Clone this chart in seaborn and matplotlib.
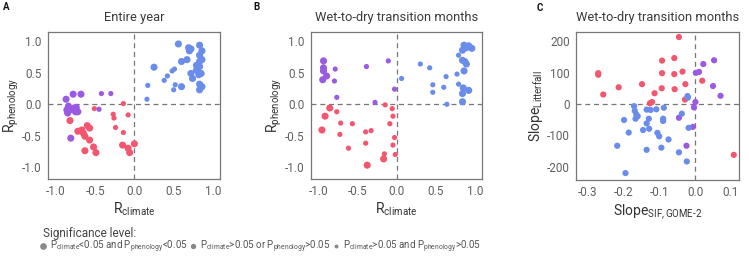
import matplotlib
matplotlib.use("Agg")
import matplotlib.pyplot as plt
from matplotlib.lines import Line2D
import seaborn as sns
import pandas as pd

sns.set_theme(style="white")
plt.rcParams['font.family'] = ['Roboto', 'DejaVu Sans']
plt.rcParams['mathtext.fontset'] = 'custom'
plt.rcParams['mathtext.rm'] = 'Roboto'
plt.rcParams['mathtext.it'] = 'Roboto'

# ---------------- Panel A: Entire year ----------------
a_blue_x = [0.56, 0.69, 0.70, 0.72, 0.83, 0.86, 0.83, 0.67, 0.60, 0.83, 0.86, 0.79, 0.83, 0.79, 0.25,
            0.51, 0.48, 0.72, 0.74, 0.85, 0.82, 0.42, 0.38, 0.52, 0.50, 0.60, 0.83, 0.86, 0.83, 0.17, 0.16]
a_blue_y = [0.96, 0.90, 0.85, 0.88, 0.94, 0.85, 0.78, 0.71, 0.68, 0.68, 0.71, 0.62, 0.60, 0.54, 0.59,
            0.56, 0.53, 0.49, 0.41, 0.49, 0.47, 0.45, 0.38, 0.31, 0.23, 0.28, 0.32, 0.28, 0.23, 0.30, 0.08]
a_blue_s = ["L", "L", "L", "L", "L", "L", "L", "L", "L", "L", "L", "L", "L", "L", "L",
            "M", "M", "L", "L", "L", "L", "M", "M", "M", "M", "L", "L", "L", "L", "M", "M"]
a_purple_x = [-0.87, -0.78, -0.68, -0.42, -0.30, -0.45, -0.84, -0.82, -0.77, -0.74, -0.75, -0.72, -0.85, -0.81, -0.86]
a_purple_y = [0.08, 0.16, 0.16, 0.17, 0.17, -0.08, -0.03, -0.09, -0.06, -0.05, -0.12, -0.12, -0.14, -0.54, -0.09]
a_purple_s = ["L", "L", "L", "M", "M", "M", "L", "L", "L", "L", "L", "L", "L", "L", "L"]
a_red_x = [-0.82, -0.72, -0.67, -0.60, -0.57, -0.65, -0.63, -0.57, -0.52, -0.63, -0.49,
           -0.14, -0.51, -0.27, -0.26, -0.24, -0.08, -0.14, -0.15, -0.08, -0.06, 0.00]
a_red_y = [-0.26, -0.43, -0.41, -0.34, -0.38, -0.46, -0.51, -0.57, -0.68, -0.74, -0.77,
           0.01, -0.07, -0.16, -0.22, -0.37, -0.17, -0.45, -0.65, -0.70, -0.77, -0.63]
a_red_s = ["L", "L", "L", "L", "L", "L", "L", "L", "L", "L", "L",
           "M", "M", "M", "M", "M", "M", "M", "L", "L", "L", "L"]

# ---------------- Panel B: Wet-to-dry transition months ----------------
b_purple_x = [-0.94, -0.94, -0.94, -0.90, -0.95, -0.79, -0.80, -0.77, -0.39, -0.11, -0.03, -0.28]
b_purple_y = [0.69, 0.58, 0.53, 0.45, 0.39, 0.56, 0.37, 0.11, 0.60, 0.69, 0.24, 0.03]
b_purple_s = ["L", "L", "L", "L", "L", "M", "M", "M", "M", "M", "M", "M"]
b_red_x = [-0.86, -0.92, -0.96, -0.77, -0.72, -0.73, -0.57, -0.62, -0.40, -0.33, -0.40, -0.38,
           -0.15, -0.06, -0.05, -0.09, -0.03, -0.05, -0.02, -0.16, -0.17]
b_red_y = [-0.06, -0.19, -0.41, -0.12, -0.30, -0.48, -0.31, -0.70, -0.44, -0.42, -0.62, -0.97,
           -0.01, -0.07, -0.19, -0.31, -0.53, -0.65, -0.80, -0.79, -0.87]
b_red_s = ["L", "L", "L", "M", "M", "M", "M", "M", "M", "M", "M", "L",
           "M", "M", "M", "M", "M", "M", "M", "M", "L"]
b_blue_x = [0.06, 0.30, 0.42, 0.46, 0.46, 0.60, 0.63, 0.64, 0.79, 0.77, 0.79, 0.86, 0.92, 0.96,
            0.84, 0.89, 0.87, 0.89, 0.84, 0.86, 0.85, 0.92, 0.84, 0.84]
b_blue_y = [0.41, 0.64, 0.58, 0.31, 0.19, 0.27, 0.44, 0.00, 0.78, 0.48, 0.32, 0.94, 0.93, 0.89,
            0.86, 0.90, 0.68, 0.64, 0.70, 0.53, 0.26, 0.22, 0.17, 0.04]
b_blue_s = ["M", "M", "M", "M", "M", "M", "M", "M", "M", "M", "M", "L", "L", "L",
            "L", "L", "L", "L", "L", "L", "L", "L", "L", "L"]

# ---------------- Panel C: slopes ----------------
c_red_x = [-0.045, -0.270, -0.270, -0.256, -0.213, -0.148, -0.092, -0.092, -0.093, -0.113, -0.120, -0.126,
           -0.058, -0.058, -0.057, -0.035, -0.027, -0.028, 0.020, 0.108]
c_red_y = [213, 98, 93, 30, 53, 63, 138, 98, 50, 34, 6, 2, 146, 95, 47, 103, 63, 14, 74, -162]
c_purple_x = [0.002, 0.011, 0.023, 0.053, 0.050, 0.071, 0.001, -0.003, -0.045, -0.006, -0.024]
c_purple_y = [99, 102, 127, 139, 57, 26, 6, -11, -44, -73, -133]
c_blue_x = [-0.170, -0.168, -0.164, -0.160, -0.166, -0.198, -0.185, -0.217, -0.194, -0.135, -0.124, -0.108,
            -0.087, -0.129, -0.135, -0.128, -0.145, -0.105, -0.100, -0.074, -0.094, -0.135, -0.089, -0.089,
            -0.037, -0.021, -0.020, -0.018, -0.045, -0.023]
c_blue_y = [-7, -22, -33, -39, -47, -51, -91, -133, -220, -18, -19, -17, -12, -47, -62, -79, -83, -92,
            -103, -113, -139, -146, -47, -54, -31, 25, 20, -76, -154, -183]

titles = ["Entire year", "Wet-to-dry transition months", "Wet-to-dry transition months"]
letters = ["A", "B", "C"]
legend_labels = [r"P$_{\mathrm{climate}}$<0.05 and P$_{\mathrm{phenology}}$<0.05",
                 r"P$_{\mathrm{climate}}$>0.05 or P$_{\mathrm{phenology}}$>0.05",
                 r"P$_{\mathrm{climate}}$>0.05 and P$_{\mathrm{phenology}}$>0.05"]

RED, BLUE, PURPLE = "#F3566F", "#6A8CEA", "#9A5BE2"
palette = {"red": RED, "blue": BLUE, "purple": PURPLE}
sizes = {"L": 26, "M": 14, "S": 7, "C": 20}


def frame(parts):
    rows = []
    for grp, xs, ys, ss in parts:
        for x, y, s in zip(xs, ys, ss):
            rows.append({"x": x, "y": y, "group": grp, "sig": s})
    return pd.DataFrame(rows)


dfA = frame([("red", a_red_x, a_red_y, a_red_s), ("purple", a_purple_x, a_purple_y, a_purple_s),
             ("blue", a_blue_x, a_blue_y, a_blue_s)])
dfB = frame([("red", b_red_x, b_red_y, b_red_s), ("purple", b_purple_x, b_purple_y, b_purple_s),
             ("blue", b_blue_x, b_blue_y, b_blue_s)])
dfC = frame([("red", c_red_x, c_red_y, ["C"] * len(c_red_x)),
             ("purple", c_purple_x, c_purple_y, ["C"] * len(c_purple_x)),
             ("blue", c_blue_x, c_blue_y, ["C"] * len(c_blue_x))])

W, H = 749, 258
fig = plt.figure(figsize=(W / 100, H / 100), dpi=100)
boxes = [(48, 32, 220, 179), (311, 32, 482, 179), (576, 32, 739, 180)]
axes = []
for (l, t, r, b) in boxes:
    axes.append(fig.add_axes([l / W, 1 - b / H, (r - l) / W, (b - t) / H]))

TXT = "#606060"
for i, (ax, df) in enumerate(zip(axes, [dfA, dfB, dfC])):
    sns.scatterplot(data=df, x="x", y="y", hue="group", palette=palette, size="sig", sizes=sizes,
                    legend=False, linewidth=0, alpha=1, ax=ax, zorder=3)
    ax.axvline(0, color="#777777", ls=(0, (4, 3)), lw=0.9, zorder=1)
    ax.axhline(0, color="#777777", ls=(0, (4, 3)), lw=0.9, zorder=1)
    for sp in ax.spines.values():
        sp.set_color("#777777")
        sp.set_linewidth(0.9)
    ax.tick_params(axis="both", labelsize=8.5, colors=TXT, length=2.5, width=0.8, pad=2)
    ax.tick_params(axis="both", color="#999999")
    ax.set_title(titles[i], fontsize=9.3, color="#3a3a3a", fontweight="normal", pad=8)
    ax.set_xlabel("")
    ax.set_ylabel("")

for ax in axes[:2]:
    ax.set_xlim(-1.10, 1.09)
    ax.set_ylim(-1.19, 1.15)
    ax.set_xticks([-1.0, -0.5, 0.0, 0.5, 1.0])
    ax.set_yticks([-1.0, -0.5, 0.0, 0.5, 1.0])
    ax.set_xticklabels(["-1.0", "-0.5", "0.0", "0.5", "1.0"])
    ax.set_yticklabels(["-1.0", "-0.5", "0.0", "0.5", "1.0"])
    ax.set_xlabel(r"R$_{\mathrm{climate}}$", fontsize=10, color="#333333", labelpad=2)
    ax.set_ylabel(r"R$_{\mathrm{phenology}}$", fontsize=10, color="#333333", labelpad=1)

axC = axes[2]
axC.set_xlim(-0.332, 0.1225)
axC.set_ylim(-242, 229)
axC.set_xticks([-0.3, -0.2, -0.1, 0.0, 0.1])
axC.set_xticklabels(["-0.3", "-0.2", "-0.1", "0.0", "0.1"])
axC.set_yticks([-200, -100, 0, 100, 200])
axC.set_yticklabels(["-200", "-100", "0", "100", "200"])
axC.set_xlabel(r"Slope$_{\mathrm{SIF,GOME\text{-}2}}$", fontsize=10, color="#333333", labelpad=2)
axC.set_ylabel(r"Slope$_{\mathrm{Litterfall}}$", fontsize=10, color="#333333", labelpad=1)

for (x, y, s) in [(3, 7, "A"), (253, 7, "B"), (537, 8, "C")]:
    fig.text(x / W, 1 - y / H, s, fontsize=7, fontweight="bold", color="#111111", va="center")

fig.text(43 / W, 1 - 233 / H, "Significance level:", fontsize=8.5, color="#444444", va="center")
handles = [Line2D([], [], marker="o", ls="", color="#888888", markersize=ms, markeredgewidth=0)
           for ms in (4.8, 3.9, 2.8)]
fig.legend(handles, legend_labels, loc="center left", bbox_to_anchor=(40 / W, 1 - 247 / H),
           ncol=3, frameon=False, fontsize=7.0, labelcolor="#555555", handlelength=0.6,
           handletextpad=0.4, columnspacing=0.3, borderaxespad=0, borderpad=0)

fig.savefig("out.png", dpi=100)
